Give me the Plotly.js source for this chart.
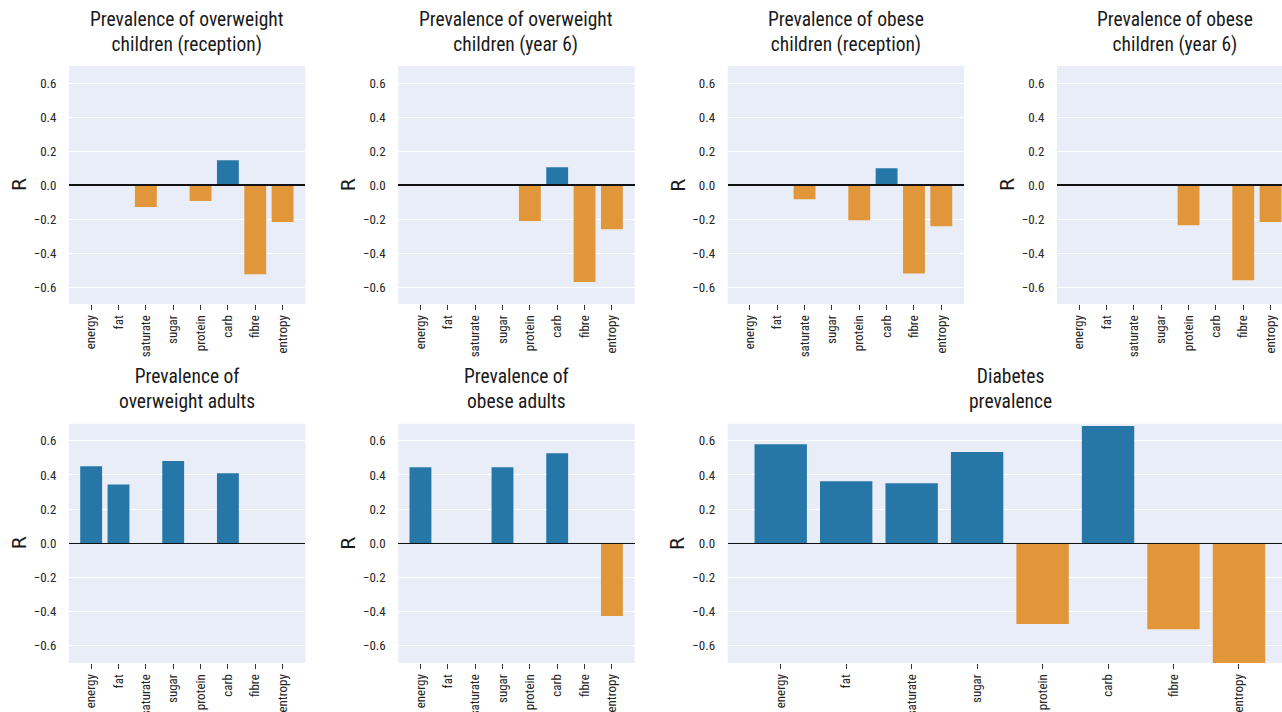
<!DOCTYPE html>
<html>
<head>
<meta charset="utf-8">
<script src="https://cdn.plot.ly/plotly-3.0.1.min.js"></script>
<style>
html, body { margin: 0; padding: 0; overflow: hidden; background: #fff; }
#chart { width: 1300px; height: 712px; }
</style>
</head>
<body>
<div id="chart"></div>
<script>
// ---- data ----
const categories = ["energy", "fat", "saturate", "sugar", "protein", "carb", "fibre", "entropy"];

const titles = [
  "Prevalence of overweight<br>children (reception)",
  "Prevalence of overweight<br>children (year 6)",
  "Prevalence of obese<br>children (reception)",
  "Prevalence of obese<br>children (year 6)",
  "Prevalence of<br>overweight adults",
  "Prevalence of<br>obese adults",
  "Diabetes<br>prevalence"
];

const overweightReception = [null, null, -0.129, null, -0.094, 0.145, -0.525, -0.218];
const overweightYear6     = [null, null, null, null, -0.212, 0.104, -0.571, -0.261];
const obeseReception      = [null, null, -0.084, null, -0.208, 0.098, -0.520, -0.243];
const obeseYear6          = [null, null, null, null, -0.237, null, -0.561, -0.218];
const overweightAdults    = [0.451, 0.345, null, 0.482, null, 0.410, null, null];
const obeseAdults         = [0.445, null, null, 0.445, null, 0.527, null, -0.425];
const diabetes            = [0.580, 0.363, 0.351, 0.534, -0.472, 0.686, -0.502, -0.710];

const seriesList = [overweightReception, overweightYear6, obeseReception, obeseYear6,
                    overweightAdults, obeseAdults, diabetes];

const yTicks = [-0.6, -0.4, -0.2, 0.0, 0.2, 0.4, 0.6];

// ---- layout geometry (px) ----
const W = 1300, H = 712;
const cols = [[69, 305.3], [398.3, 634.6], [727.7, 964], [1057, 1293.3]];
const rows = [[66, 304], [423.7, 663]];
const panels = [
  {c: [cols[0][0], cols[0][1]], r: rows[0]},
  {c: [cols[1][0], cols[1][1]], r: rows[0]},
  {c: [cols[2][0], cols[2][1]], r: rows[0]},
  {c: [cols[3][0], cols[3][1]], r: rows[0]},
  {c: [cols[0][0], cols[0][1]], r: rows[1]},
  {c: [cols[1][0], cols[1][1]], r: rows[1]},
  {c: [cols[2][0], cols[3][1]], r: rows[1]}
];

const BLUE = '#2677A7', ORANGE = '#E1963A';
const BG = '#E9EDF7';
const TICKFONT = {family: 'Roboto Condensed, Roboto, sans-serif', size: 13, color: '#262626'};

const traces = [];
const layout = {
  width: W, height: H,
  margin: {l: 0, r: 0, t: 0, b: 0},
  paper_bgcolor: '#ffffff',
  plot_bgcolor: BG,
  showlegend: false,
  annotations: [],
  hovermode: false
};

panels.forEach((p, i) => {
  const n = i + 1;
  const sfx = (n === 1 ? '' : String(n));
  const vals = seriesList[i];
  traces.push({
    type: 'bar',
    x: categories,
    y: vals,
    xaxis: 'x' + sfx,
    yaxis: 'y' + sfx,
    marker: {color: vals.map(v => (v !== null && v < 0) ? ORANGE : BLUE), line: {width: 0}},
    width: 0.8
  });
  layout['xaxis' + sfx] = {
    domain: [p.c[0] / W, p.c[1] / W],
    anchor: 'y' + sfx,
    type: 'category',
    categoryorder: 'array',
    categoryarray: categories,
    range: [-0.81, 7.83],
    showgrid: false,
    zeroline: false,
    showline: false,
    ticks: 'outside',
    ticklen: 5,
    tickwidth: 1,
    tickcolor: '#333333',
    tickangle: -90,
    tickfont: TICKFONT,
    fixedrange: true
  };
  layout['yaxis' + sfx] = {
    domain: [1 - p.r[1] / H, 1 - p.r[0] / H],
    anchor: 'x' + sfx,
    range: [-0.7, 0.7],
    tickvals: yTicks,
    tickformat: '.1f',
    showgrid: true,
    gridcolor: '#ffffff',
    gridwidth: 1,
    zeroline: true,
    zerolinecolor: '#111111',
    zerolinewidth: 1.6,
    zerolinelayer: 'above traces',
    showline: false,
    ticks: 'outside',
    ticklen: 9,
    tickcolor: 'rgba(0,0,0,0)',
    tickfont: TICKFONT,
    fixedrange: true
  };
  // subplot title
  layout.annotations.push({
    text: titles[i],
    xref: 'paper', yref: 'paper',
    x: ((p.c[0] + p.c[1]) / 2) / W,
    y: 1 - (p.r[0] - 34.5) / H,
    xanchor: 'center', yanchor: 'middle',
    showarrow: false,
    align: 'center',
    font: {family: 'Roboto Condensed, Roboto, sans-serif', size: 19.5, color: '#1a1a1a'}
  });
  // y axis label
  layout.annotations.push({
    text: 'R',
    xref: 'paper', yref: 'paper',
    x: (p.c[0] - 50) / W,
    y: 1 - ((p.r[0] + p.r[1]) / 2) / H,
    xanchor: 'center', yanchor: 'middle',
    textangle: -90,
    showarrow: false,
    font: {family: 'DejaVu Sans, sans-serif', size: 19, color: '#1a1a1a'}
  });
});

Plotly.newPlot('chart', traces, layout, {staticPlot: true, displayModeBar: false});
</script>
</body>
</html>
